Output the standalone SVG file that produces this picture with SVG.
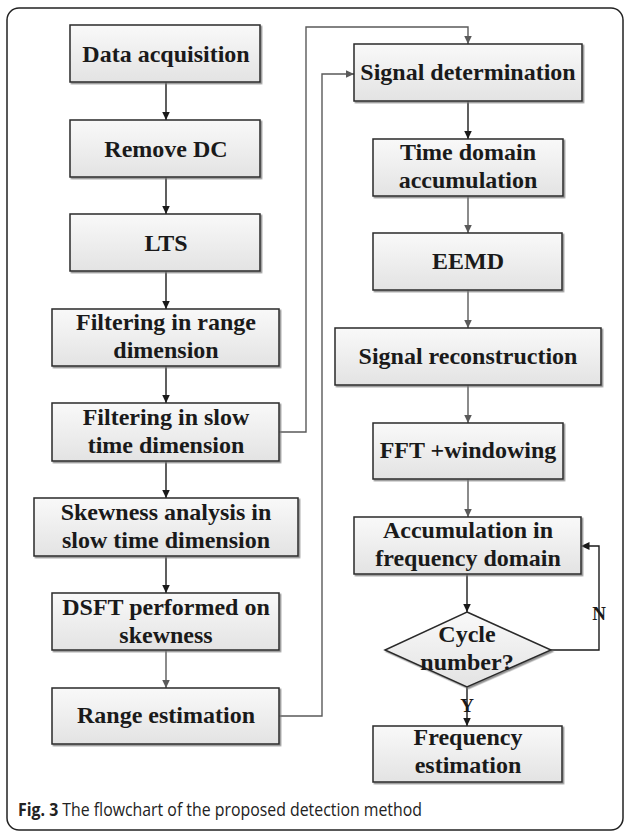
<svg xmlns="http://www.w3.org/2000/svg" width="627" height="831" viewBox="0 0 627 831">
  <defs>
    <linearGradient id="boxFill" x1="0" y1="0" x2="0" y2="1">
      <stop offset="0" stop-color="#f9f9f9"/>
      <stop offset="1" stop-color="#e3e3e3"/>
    </linearGradient>
    <filter id="shadow" x="-5%" y="-10%" width="115%" height="130%">
      <feDropShadow dx="1.5" dy="1.5" stdDeviation="0.7" flood-color="#777" flood-opacity="0.8"/>
    </filter>
    <marker id="arrowDark" markerWidth="9" markerHeight="8" refX="8.5" refY="4" orient="auto" markerUnits="userSpaceOnUse">
      <path d="M0,0 L8.5,4 L0,8 z" fill="#1a1a1a"/>
    </marker>
    <marker id="arrowGray" markerWidth="9" markerHeight="8" refX="8.5" refY="4" orient="auto" markerUnits="userSpaceOnUse">
      <path d="M0,0 L8.5,4 L0,8 z" fill="#5a5a5a"/>
    </marker>
  </defs>
  <style>
    .box { fill: url(#boxFill); stroke: #2a2a2a; stroke-width: 1.5; filter: url(#shadow); }
    .label { font-family: "Liberation Serif", "Times New Roman", serif; font-weight: bold; font-size: 24px; fill: #1a1a1a; text-anchor: middle; }
    .small { font-size: 19px; }
    .dark { fill: none; stroke: #1a1a1a; stroke-width: 1.4; marker-end: url(#arrowDark); }
    .gray { fill: none; stroke: #5a5a5a; stroke-width: 1.4; marker-end: url(#arrowGray); }
    .caption { font-family: "Open Sans", "Liberation Sans", sans-serif; font-size: 17.5px; fill: #222; }
  </style>

  <!-- outer frame -->
  <rect x="7" y="8" width="616" height="822" rx="12" ry="12" fill="#fff" stroke="#222" stroke-width="1.5"/>

  <!-- connectors -->
  <g id="connectors">
    <path class="dark" d="M166,82 V120"/>
    <path class="dark" d="M166,177 V214"/>
    <path class="dark" d="M166,271 V309"/>
    <path class="dark" d="M166,366 V403"/>
    <path class="dark" d="M166,461 V498"/>
    <path class="dark" d="M166,556 V593"/>
    <path class="gray" d="M166,650 V688"/>
    <path class="gray" d="M279,432 H306 V27 H468 V44"/>
    <path class="gray" d="M279,716 H322 V74 H354"/>
    <path class="dark" d="M468,101 V139"/>
    <path class="gray" d="M468,196 V233"/>
    <path class="gray" d="M468,290 V328"/>
    <path class="gray" d="M468,385 V423"/>
    <path class="gray" d="M468,479 V517"/>
    <path class="dark" d="M467,574 V612"/>
    <path class="dark" d="M467,687 V726"/>
    <path class="dark" d="M551,650 H599 V546 H581"/>
    <text class="label small" x="467" y="712">Y</text>
    <text class="label small" x="599" y="620">N</text>
  </g>

  <!-- left column -->
  <g id="data-acquisition">
    <rect class="box" x="70" y="25" width="190" height="57"/>
    <text class="label" x="166" y="61.5">Data acquisition</text>
  </g>
  <g id="remove-dc">
    <rect class="box" x="70" y="120" width="190" height="57"/>
    <text class="label" x="166" y="156.5">Remove DC</text>
  </g>
  <g id="lts">
    <rect class="box" x="70" y="214" width="190" height="57"/>
    <text class="label" x="166" y="250.5">LTS</text>
  </g>
  <g id="filter-range">
    <rect class="box" x="52" y="309" width="227" height="57"/>
    <text class="label" x="166" y="330">Filtering in range</text>
    <text class="label" x="166" y="358">dimension</text>
  </g>
  <g id="filter-slow-time">
    <rect class="box" x="52" y="403" width="227" height="58"/>
    <text class="label" x="166" y="425">Filtering in slow</text>
    <text class="label" x="166" y="453">time dimension</text>
  </g>
  <g id="skewness">
    <rect class="box" x="34" y="498" width="264" height="58"/>
    <text class="label" x="166" y="520">Skewness analysis in</text>
    <text class="label" x="166" y="548">slow time dimension</text>
  </g>
  <g id="dsft">
    <rect class="box" x="52" y="593" width="227" height="57"/>
    <text class="label" x="166" y="614.5">DSFT performed on</text>
    <text class="label" x="166" y="642.5">skewness</text>
  </g>
  <g id="range-estimation">
    <rect class="box" x="52" y="688" width="227" height="56"/>
    <text class="label" x="166" y="723">Range estimation</text>
  </g>

  <!-- right column -->
  <g id="signal-determination">
    <rect class="box" x="354" y="44" width="228" height="57"/>
    <text class="label" x="468" y="80">Signal determination</text>
  </g>
  <g id="time-domain">
    <rect class="box" x="373" y="139" width="190" height="57"/>
    <text class="label" x="468" y="160">Time domain</text>
    <text class="label" x="468" y="188">accumulation</text>
  </g>
  <g id="eemd">
    <rect class="box" x="373" y="233" width="189" height="57"/>
    <text class="label" x="468" y="269">EEMD</text>
  </g>
  <g id="signal-reconstruction">
    <rect class="box" x="335" y="328" width="266" height="57"/>
    <text class="label" x="468" y="363.5">Signal reconstruction</text>
  </g>
  <g id="fft-windowing">
    <rect class="box" x="373" y="423" width="190" height="56"/>
    <text class="label" x="468" y="458">FFT +windowing</text>
  </g>
  <g id="frequency-accumulation">
    <rect class="box" x="354" y="517" width="227" height="57"/>
    <text class="label" x="468" y="538">Accumulation in</text>
    <text class="label" x="468" y="566">frequency domain</text>
  </g>
  <g id="cycle-number">
    <polygon class="box" points="467,612 551,650 467,687 385,650"/>
    <text class="label" x="467" y="642">Cycle</text>
    <text class="label" x="467" y="670">number?</text>
  </g>
  <g id="frequency-estimation">
    <rect class="box" x="373" y="726" width="189" height="56"/>
    <text class="label" x="468" y="745">Frequency</text>
    <text class="label" x="468" y="773">estimation</text>
  </g>

  <!-- caption -->
  <text class="caption" x="18" y="816" textLength="404" lengthAdjust="spacingAndGlyphs"><tspan font-weight="bold">Fig. 3</tspan> The flowchart of the proposed detection method</text>
</svg>
